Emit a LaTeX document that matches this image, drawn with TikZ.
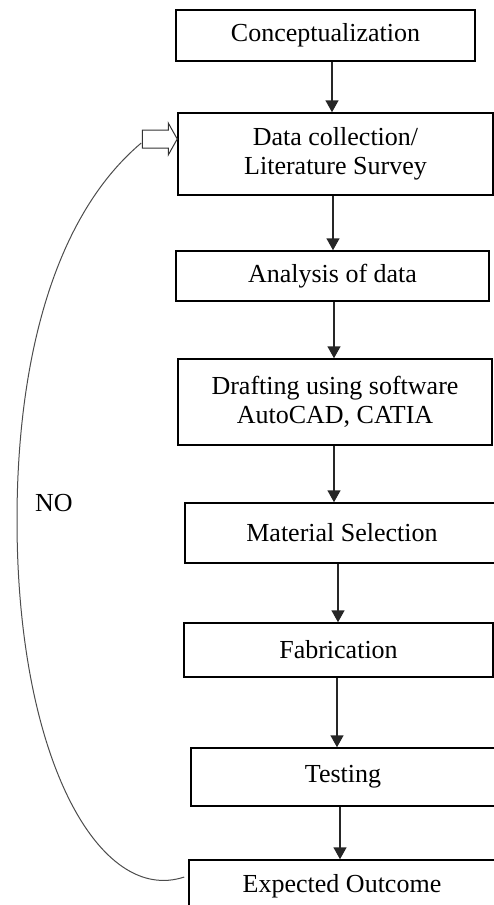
\documentclass[tikz,border=0pt]{standalone}
\usepackage{fontspec}
\setmainfont{Liberation Serif}
\usetikzlibrary{arrows.meta,calc}
\begin{document}
\begin{tikzpicture}[x=1pt,y=-1pt,
  box/.style={draw=black, line width=1.5pt, inner sep=0pt, align=center,
    font=\fontsize{26}{29}\selectfont},
  arr/.style={line width=1.6pt, draw=black!85, -{Triangle[length=12pt,width=13pt]}},
  loopline/.style={line width=1pt, draw=black!70},
  blockarr/.style={draw=black!80, line width=1pt, fill=white},
  lbl/.style={font=\fontsize{26}{29}\selectfont, inner sep=0pt}]
\useasboundingbox (0,0) rectangle (493,905);

\node[box, minimum width=299pt, minimum height=51pt] (c) at (325.5,35.5) {Conceptualization};
\node[box, minimum width=315pt, minimum height=82pt] (d) at (335.5,154) {Data collection/\\Literature Survey};
\node[box, minimum width=313pt, minimum height=50pt] (a) at (332.5,276) {Analysis of data};
\node[box, minimum width=314pt, minimum height=86pt] (dr) at (335,402) {Drafting using software\\AutoCAD, CATIA};
\node[box, minimum width=314pt, minimum height=60pt] (m) at (342,533) {Material Selection};
\node[box, minimum width=309pt, minimum height=54pt] (f) at (338.5,650) {Fabrication};
\node[box, minimum width=304pt, minimum height=58pt] (t) at (343,777) {Testing};
\node[box, minimum width=306pt, minimum height=52pt] (e) at (342,886) {Expected Outcome};

\node[lbl] (no) at (54,503) {NO};

\draw[arr] ([xshift=6.5pt]c.south) -- ([xshift=-3.5pt]d.north);
\draw[arr] ([xshift=-2.5pt]d.south) -- ([xshift=0.5pt]a.north);
\draw[arr] ([xshift=1.5pt]a.south) -- ([xshift=-1pt]dr.north);
\draw[arr] ([xshift=-1pt]dr.south) -- ([xshift=-8pt]m.north);
\draw[arr] ([xshift=-4pt]m.south) -- ([xshift=-0.5pt]f.north);
\draw[arr] ([xshift=-1.5pt]f.south) -- ([xshift=-6pt]t.north);
\draw[arr] ([xshift=-3pt]t.south) -- ([xshift=-2pt]e.north);

% feedback loop
\coordinate (tip) at ($(d.west)+(0,-15)$);
\coordinate (tail) at ($(tip)+(-36,4)$);
\coordinate (start) at ($(e.west)+(-4,-9)$);
\draw[loopline] (start) .. controls (100,905) and (17,760) .. (17,520)
  .. controls (17,370) and (50,220) .. (tail);
\draw[blockarr] ($(tip)+(-35,-9)$) -- ($(tip)+(-9,-9)$) -- ($(tip)+(-9,-16)$)
  -- (tip) -- ($(tip)+(-9,16)$) -- ($(tip)+(-9,9)$) -- ($(tip)+(-35,9)$) -- cycle;
\end{tikzpicture}
\end{document}
